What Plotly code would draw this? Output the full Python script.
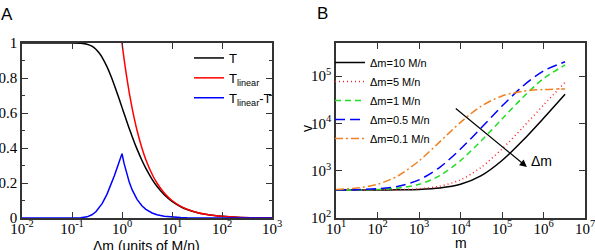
import plotly.graph_objects as go

# ---------------- Panel A data ----------------
dm_A = [0.01, 0.05, 0.1, 0.15, 0.2, 0.25, 0.3, 0.35, 0.4, 0.5, 0.6, 0.7, 0.8, 0.9,
        1.0, 1.1, 1.2, 1.4, 1.6, 1.8, 2, 2.5, 3, 4, 5, 7, 10, 15, 20, 30, 50, 70,
        100, 200, 500, 1000]
T_vals = [1.0, 1.0, 1.0, 0.9987, 0.9933, 0.9817, 0.9643, 0.9426, 0.9179, 0.8647,
          0.8111, 0.7603, 0.7135, 0.6708, 0.6321, 0.5971, 0.5654, 0.5105, 0.4647,
          0.4262, 0.3935, 0.3297, 0.2835, 0.2212, 0.1813, 0.1331, 0.0952, 0.0645,
          0.0488, 0.0328, 0.0198, 0.0142, 0.00995, 0.0050, 0.0020, 0.0010]
dm_lin = [0.9, 1.0, 1.1, 1.2, 1.4, 1.6, 1.8, 2, 2.5, 3, 4, 5, 7, 10, 15, 20, 30,
          50, 70, 100, 200, 500, 1000]
Tlin_vals = [1.111, 1.0, 0.909, 0.833, 0.714, 0.625, 0.556, 0.5, 0.4, 0.333, 0.25,
             0.2, 0.143, 0.1, 0.0667, 0.05, 0.0333, 0.02, 0.0143, 0.01, 0.005,
             0.002, 0.001]
diff_vals = [0.0, 0.0, 0.00005, 0.0013, 0.0067, 0.0183, 0.0357, 0.0574, 0.0821,
             0.1353, 0.1889, 0.2397, 0.2865, 0.3292, 0.3679, 0.3120, 0.2679,
             0.2038, 0.1603, 0.1294, 0.1065, 0.0703, 0.0498, 0.0288, 0.0187,
             0.0098, 0.0048, 0.0022, 0.0012, 0.0005, 0.0002, 0.0001, 0.00005,
             0.0, 0.0, 0.0]
yticks_A = [0, 0.2, 0.4, 0.6, 0.8, 1]
yticklabels_A = ["0", "0.2", "0.4", "0.6", "0.8", "1"]
xticks_A = [0.01, 0.1, 1, 10, 100, 1000]
xticklabels_A = ["10<sup>-2</sup>", "10<sup>-1</sup>", "10<sup>0</sup>",
                 "10<sup>1</sup>", "10<sup>2</sup>", "10<sup>3</sup>"]

# ---------------- Panel B data ----------------
m_vals = [10, 31.6, 100, 316, 1000, 3162, 10000, 31623, 1e5, 3.162e5, 1e6, 3.31e6]
v_dm10 = [390, 390, 391, 394, 402, 430, 515, 785, 1640, 4340, 12860, 41450]
v_dm5 = [390, 391, 392, 398, 415, 469, 640, 1180, 2880, 8190, 24400, 74000]
v_dm1 = [391, 394, 402, 430, 515, 785, 1635, 4290, 12390, 35300, 88600, 172000]
v_dm05 = [392, 398, 415, 469, 640, 1178, 2866, 8066, 23230, 61230, 128800, 200560]
v_dm01 = [402, 430, 515, 782, 1612, 4073, 10540, 23210, 38100, 47900, 52150, 53700]
xticks_B = [10, 100, 1000, 1e4, 1e5, 1e6, 1e7]
xticklabels_B = ["10<sup>%d</sup>" % k for k in range(1, 8)]
yticks_B = [100, 1000, 1e4, 1e5]
yticklabels_B = ["10<sup>%d</sup>" % k for k in range(2, 6)]

W, H = 595, 250
def px(x):
    return x / W
def py(y):
    return 1 - y / H

fig = go.Figure()
lw = 1.5
fig.add_trace(go.Scatter(x=dm_A, y=T_vals, mode="lines", name="T",
                         line=dict(color="black", width=lw, shape="spline", smoothing=0.6),
                         xaxis="x", yaxis="y", legend="legend"))
fig.add_trace(go.Scatter(x=dm_lin, y=Tlin_vals, mode="lines", name="T<sub>linear</sub>",
                         line=dict(color="#ff0000", width=lw, shape="spline", smoothing=0.6),
                         xaxis="x", yaxis="y", legend="legend"))
fig.add_trace(go.Scatter(x=dm_A, y=diff_vals, mode="lines", name="T<sub>linear</sub>-T",
                         line=dict(color="#0000ff", width=lw),
                         xaxis="x", yaxis="y", legend="legend"))

series_B = [
    ("Δm=10 M/n", v_dm10, "black", "solid"),
    ("Δm=5 M/n", v_dm5, "#ff2020", "1px,3px"),
    ("Δm=1 M/n", v_dm1, "#22dd22", "6px,4px"),
    ("Δm=0.5 M/n", v_dm05, "#0000ff", "10px,5px"),
    ("Δm=0.1 M/n", v_dm01, "#f08020", "8px,3px,2px,3px"),
]
for name, vals, col, dash in series_B:
    fig.add_trace(go.Scatter(x=m_vals, y=vals, mode="lines", name=name,
                             line=dict(color=col, width=lw, dash=dash, shape="spline", smoothing=0.8),
                             xaxis="x2", yaxis="y2", legend="legend2"))

tickfont = dict(family="Liberation Serif", size=15, color="black")
axcommon = dict(showline=True, linecolor="#333", linewidth=1.5, mirror="ticks",
                ticks="inside", ticklen=6, tickwidth=1.2, tickcolor="#333",
                showgrid=False, zeroline=False, tickfont=tickfont, automargin=False,
                ticklabeloverflow="allow")

fig.update_layout(
    width=W, height=H, margin=dict(l=0, r=0, t=0, b=0, autoexpand=False),
    paper_bgcolor="white", plot_bgcolor="white", showlegend=True,
    xaxis=dict(domain=[px(22), px(272)], type="log", range=[-2, 3], anchor="y",
               tickvals=xticks_A, ticktext=xticklabels_A, ticklabelstandoff=-4, **axcommon),
    yaxis=dict(domain=[py(218), py(43)], range=[0, 1], anchor="x",
               tickvals=yticks_A, ticktext=yticklabels_A,
               minor=dict(dtick=0.1, tick0=0, ticks="inside", ticklen=3, tickcolor="#333"),
               **axcommon),
    xaxis2=dict(domain=[px(336), px(585)], type="log", range=[1, 7], anchor="y2",
                tickvals=xticks_B, ticktext=xticklabels_B, ticklabelstandoff=-4, **axcommon),
    yaxis2=dict(domain=[py(218), py(43)], type="log", range=[2, 5.7], anchor="x2",
                tickvals=yticks_B, ticktext=yticklabels_B, **axcommon),
    legend=dict(x=px(189), y=py(43), xanchor="left", yanchor="top",
                bgcolor="rgba(0,0,0,0)", itemwidth=30,
                font=dict(family="Liberation Sans, Arial, sans-serif", size=13, color="black"),
                tracegroupgap=0),
    legend2=dict(x=px(330), y=py(48), xanchor="left", yanchor="top",
                 bgcolor="rgba(0,0,0,0)", itemwidth=30,
                 font=dict(family="Liberation Sans, Arial, sans-serif", size=11, color="black"),
                 tracegroupgap=0),
)

sans = "Liberation Sans, Arial, sans-serif"
annos = [
    dict(text="A", x=0, y=py(14), xanchor="left", font=dict(family=sans, size=17)),
    dict(text="B", x=px(316), y=py(13), xanchor="left", font=dict(family=sans, size=17)),
    dict(text="Δm (units of M/n)", x=px(146), y=py(246), xanchor="center", font=dict(family=sans, size=14)),
    dict(text="m", x=px(461), y=py(243), xanchor="center", font=dict(family=sans, size=14)),
    dict(text="v", x=px(307), y=py(129), xanchor="center", font=dict(family=sans, size=14), textangle=-90),
]
for a in annos:
    fig.add_annotation(xref="paper", yref="paper", showarrow=False,
                       yanchor="middle", font_color="black", borderpad=0, **a)

# arrow indicating increasing Δm
fig.add_annotation(xref="x2", yref="y2", axref="x2", ayref="y2",
                   x=5.60, y=3.08, ax=3.85, ay=4.34, showarrow=True,
                   arrowhead=2, arrowsize=1.2, arrowwidth=1.2, arrowcolor="black", text="")
fig.add_annotation(xref="x2", yref="y2", x=5.96, y=3.2, text="Δm", showarrow=False,
                   font=dict(family=sans, size=14, color="black"))

fig.write_html("out.html")
